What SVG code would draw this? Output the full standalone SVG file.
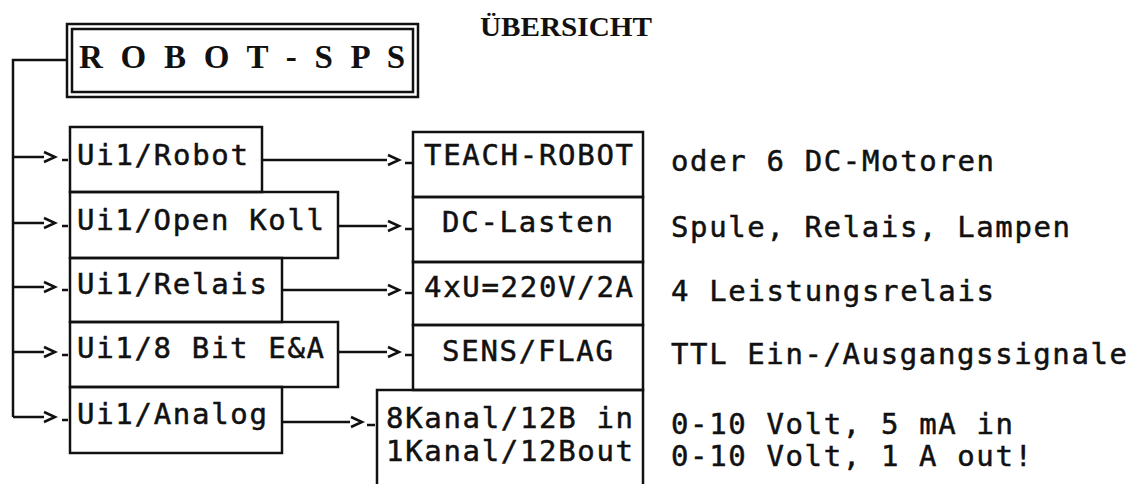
<svg xmlns="http://www.w3.org/2000/svg" width="1132" height="484" viewBox="0 0 1132 484">
<style>
.box{fill:none;stroke:#111;stroke-width:2.5}
.ln{fill:none;stroke:#111;stroke-width:2.5;stroke-linejoin:miter}
.t{font-family:"DejaVu Sans Mono","Liberation Mono",monospace;font-size:29px;fill:#111;stroke:#111;stroke-width:0.5}
.title{font-family:"Liberation Serif","DejaVu Serif",serif;font-size:33px;font-weight:bold;fill:#111}
.head{font-family:"Liberation Serif","DejaVu Serif",serif;font-size:27px;font-weight:bold;fill:#111}
</style>
<rect width="1132" height="484" fill="#fff"/>
<text class="head" x="480" y="36" textLength="172" lengthAdjust="spacingAndGlyphs">ÜBERSICHT</text>

<g id="robot-sps">
<rect class="box" x="67" y="24" width="351" height="73" stroke-width="3"/>
<rect class="box" x="72" y="29" width="341" height="63" stroke-width="2"/>
<text class="title" x="79" y="68" textLength="326" lengthAdjust="spacing">R O B O T - S P S</text>
</g>

<g id="connectors">
<path class="ln" d="M67,60 H13 V417"/>
<path class="ln" d="M13,157 H44 M44,152 L55,157 L44,162 M62,160 H68"/>
<path class="ln" d="M13,223 H44 M44,218 L55,223 L44,228 M62,226 H68"/>
<path class="ln" d="M13,287 H44 M44,282 L55,287 L44,292 M62,290 H68"/>
<path class="ln" d="M13,352 H44 M44,347 L55,352 L44,357 M62,355 H68"/>
<path class="ln" d="M13,417 H44 M44,412 L55,417 L44,422 M62,420 H68"/>
<path class="ln" d="M262,160 H387 M388,155 L399,160 L388,165 M405,163 H412"/>
<path class="ln" d="M338,226 H387 M388,221 L399,226 L388,231 M405,229 H412"/>
<path class="ln" d="M282,290 H387 M388,285 L399,290 L388,295 M405,293 H412"/>
<path class="ln" d="M338,352 H387 M388,347 L399,352 L388,357 M405,355 H412"/>
<path class="ln" d="M282,422 H350 M351,417 L362,422 L351,427 M367,425 H375"/>
</g>

<g id="ui1-robot"><rect class="box" x="70" y="127" width="192" height="65"/><text class="t" x="77" y="165" textLength="171">Ui1/Robot</text></g>
<g id="ui1-open-koll"><rect class="box" x="70" y="192" width="268" height="66"/><text class="t" x="77" y="230" textLength="247">Ui1/Open Koll</text></g>
<g id="ui1-relais"><rect class="box" x="70" y="258" width="212" height="64"/><text class="t" x="77" y="294" textLength="190">Ui1/Relais</text></g>
<g id="ui1-8bit"><rect class="box" x="70" y="322" width="268" height="65"/><text class="t" x="77" y="358" textLength="247">Ui1/8 Bit E&amp;A</text></g>
<g id="ui1-analog"><rect class="box" x="70" y="387" width="212" height="66"/><text class="t" x="77" y="424" textLength="190">Ui1/Analog</text></g>

<g id="teach-robot"><rect class="box" x="413" y="132" width="230" height="65"/><text class="t" x="424" y="165" textLength="209">TEACH-ROBOT</text></g>
<g id="dc-lasten"><rect class="box" x="413" y="197" width="230" height="65"/><text class="t" x="442" y="232" textLength="171">DC-Lasten</text></g>
<g id="relais-220v"><rect class="box" x="413" y="262" width="230" height="63"/><text class="t" x="424" y="297" textLength="209">4xU=220V/2A</text></g>
<g id="sens-flag"><rect class="box" x="413" y="325" width="230" height="65"/><text class="t" x="442" y="361" textLength="171">SENS/FLAG</text></g>
<g id="kanal"><rect class="box" x="377" y="390" width="266" height="110"/><text class="t" x="386" y="428" textLength="247">8Kanal/12B in</text><text class="t" x="386" y="461" textLength="247">1Kanal/12Bout</text></g>

<g id="descriptions">
<text class="t" x="671" y="171" textLength="323">oder 6 DC-Motoren</text>
<text class="t" x="671" y="237" textLength="399">Spule, Relais, Lampen</text>
<text class="t" x="671" y="301" textLength="323">4 Leistungsrelais</text>
<text class="t" x="671" y="364" textLength="456">TTL Ein-/Ausgangssignale</text>
<text class="t" x="671" y="434" textLength="342">0-10 Volt, 5 mA in</text>
<text class="t" x="671" y="466" textLength="361">0-10 Volt, 1 A out!</text>
</g>
</svg>
